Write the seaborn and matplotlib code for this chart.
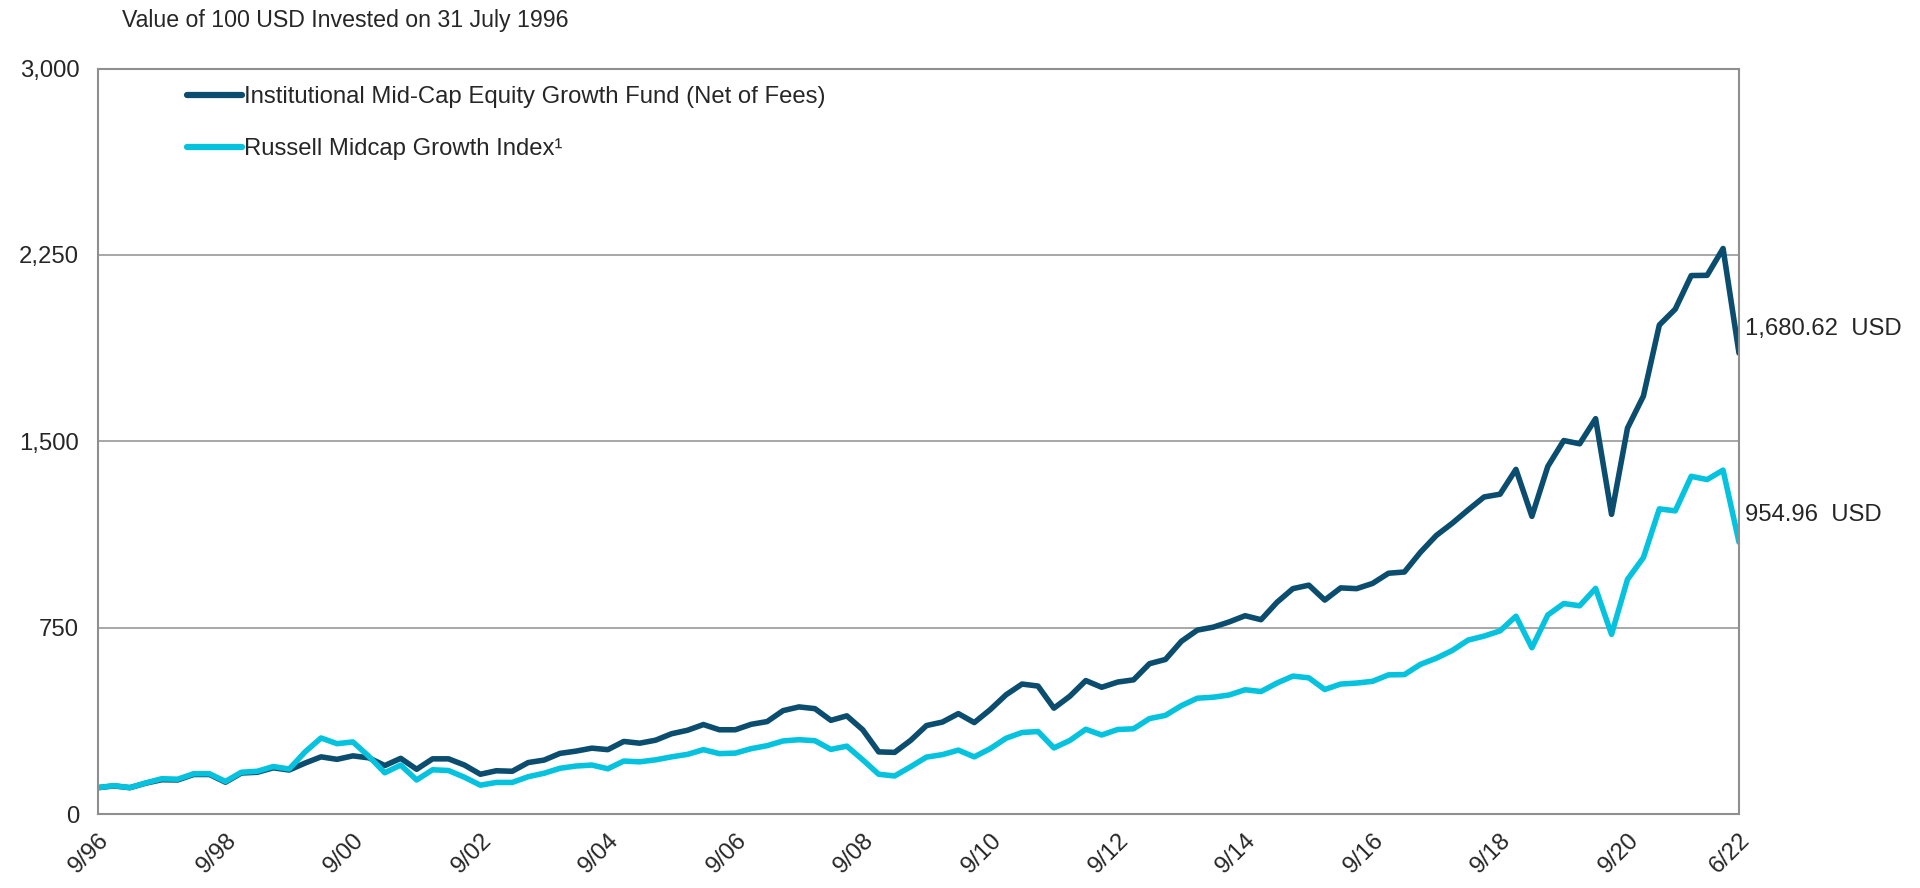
import numpy as np
import pandas as pd
import matplotlib
matplotlib.use("Agg")
import matplotlib.pyplot as plt
import seaborn as sns
from matplotlib.lines import Line2D

# ---- data (quarterly, 9/96 .. 6/22) ----
fund_values = [106, 113, 106, 124, 138, 137, 159, 159, 128, 165,
               168, 186, 177, 205, 230, 220, 234, 226, 195, 224,
               180, 222, 222, 197, 160, 174, 172, 207, 217, 244,
               253, 265, 259, 292, 285, 297, 323, 337, 360, 339,
               339, 361, 372, 416, 431, 424, 377, 395, 339, 250,
               248, 296, 356, 370, 404, 368, 420, 480, 523, 515,
               426, 474, 537, 510, 531, 540, 605, 622, 695, 740,
               752, 773, 798, 782, 852, 907, 921, 861, 910, 907,
               928, 969, 974, 1053, 1121, 1170, 1224, 1276, 1287, 1387,
               1198, 1399, 1503, 1490, 1591, 1206, 1553, 1682, 1968, 2032,
               2167, 2168, 2276, 1855]
index_values = [106, 114, 106, 125, 142, 140, 162, 162, 131, 168,
                172, 191, 181, 250, 306, 283, 290, 232, 166, 197,
                137, 178, 175, 148, 116, 127, 127, 150, 164, 184,
                193, 197, 182, 213, 210, 218, 230, 240, 259, 243,
                245, 263, 275, 294, 299, 295, 260, 273, 218, 160,
                153, 190, 229, 239, 257, 230, 263, 305, 328, 332,
                266, 296, 341, 318, 340, 343, 384, 397, 436, 466,
                470, 479, 500, 493, 527, 555, 548, 501, 523, 527,
                534, 560, 561, 602, 627, 658, 700, 716, 737, 796,
                669, 801, 847, 838, 908, 723, 944, 1032, 1228, 1220,
                1359, 1346, 1384, 1094]
series_names = ["Institutional Mid-Cap Equity Growth Fund (Net of Fees)",
                "Russell Midcap Growth Index\u00b9"]
series_colors = ["#0B4D6E", "#05C3DE"]
x_tick_pos = [0, 8, 16, 24, 32, 40, 48, 56, 64, 72, 80, 88, 96, 103]
x_tick_labels = ["9/96", "9/98", "9/00", "9/02", "9/04", "9/06", "9/08",
                 "9/10", "9/12", "9/14", "9/16", "9/18", "9/20", "6/22"]
y_ticks = [0, 750, 1500, 2250, 3000]
end_labels = ["1,680.62  USD", "954.96  USD"]
end_label_y = [1952, 1203]
title = "Value of 100 USD Invested on 31 July 1996"

sns.set_style("white")
plt.rcParams["font.family"] = ["Liberation Sans", "DejaVu Sans"]

FS = 17.2
W, H = 1920, 888
fig = plt.figure(figsize=(W / 100, H / 100), dpi=100)
left, right, top, bottom = 98, 1739, 68.6, 814
ax = fig.add_axes([left / W, 1 - bottom / H, (right - left) / W, (bottom - top) / H])

q = np.arange(len(fund_values))
df = pd.DataFrame({
    "q": np.concatenate([q, q]),
    "value": fund_values + index_values,
    "series": [series_names[0]] * len(fund_values) + [series_names[1]] * len(index_values),
})
sns.lineplot(data=df, x="q", y="value", hue="series", hue_order=series_names,
             palette=series_colors, linewidth=4.0, ax=ax, legend=False)

ax.set_xlim(0, len(fund_values) - 1)
ax.set_ylim(0, 3000)
ax.set_yticks(y_ticks)
ax.set_yticklabels([f"{v:,}" for v in y_ticks], fontsize=FS)
ax.set_xticks(x_tick_pos)
ax.set_xticklabels(x_tick_labels, fontsize=FS, rotation=45, ha="right",
                   va="top", rotation_mode="anchor")
ax.tick_params(axis="both", length=0)
ax.tick_params(axis="y", pad=13.5)
ax.tick_params(axis="x", pad=11)
ax.set_xlabel("")
ax.set_ylabel("")
ax.yaxis.grid(True, color="#a0a0a0", linewidth=1.3)
ax.xaxis.grid(False)
for s in ax.spines.values():
    s.set_color("#8f8f8f")
    s.set_linewidth(1.5)

handles = [Line2D([0], [0], color=c, linewidth=4.5, solid_capstyle="round") for c in series_colors]
ax.legend(handles, series_names, loc="upper left", bbox_to_anchor=(0.054, 0.976),
          frameon=False, fontsize=FS, handlelength=2.3, handletextpad=0.12,
          labelspacing=1.24, borderpad=0, borderaxespad=0)

for lab, yv in zip(end_labels, end_label_y):
    ax.annotate(lab, xy=(1, yv), xycoords=("axes fraction", "data"),
                xytext=(4, 0), textcoords="offset points", va="center", ha="left",
                fontsize=FS, annotation_clip=False)

fig.text(122 / W, 1 - 20.5 / H, title, fontsize=16.7, va="center", ha="left")

fig.savefig("out.png", dpi=100)
